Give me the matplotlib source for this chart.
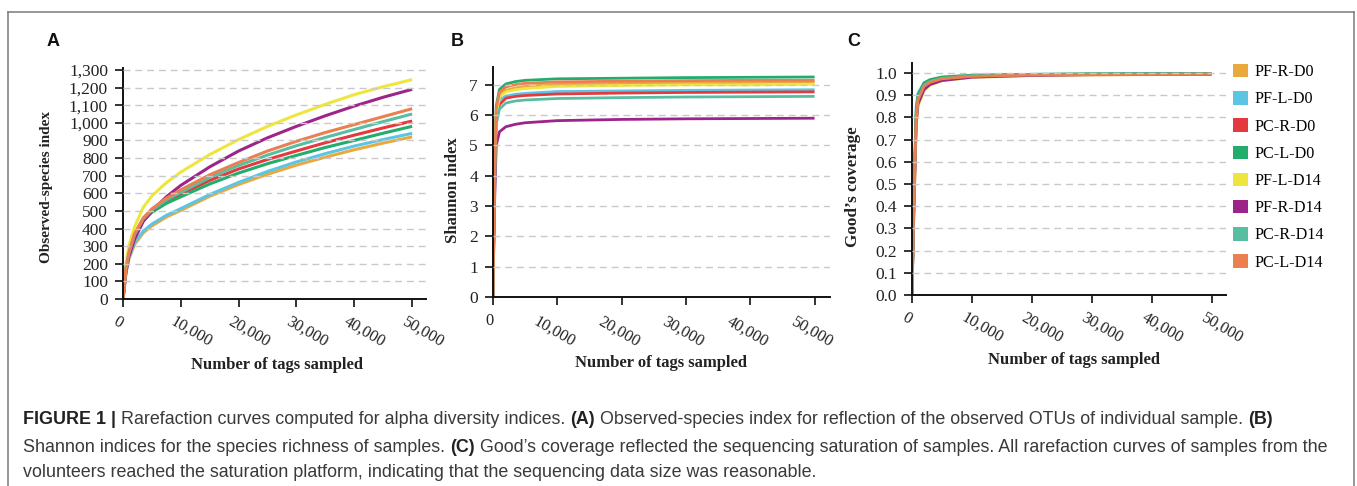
import matplotlib
matplotlib.use("Agg")
import matplotlib.pyplot as plt
from matplotlib.patches import Patch
from matplotlib.lines import Line2D
from matplotlib.transforms import ScaledTranslation

W, H = 1357, 486
DPI = 100

samples = ["PF-R-D0", "PF-L-D0", "PC-R-D0", "PC-L-D0",
           "PF-L-D14", "PF-R-D14", "PC-R-D14", "PC-L-D14"]
colors = ["#E9A93C", "#5DC5E4", "#E4393F", "#22AD6C",
          "#EEE63E", "#9D2489", "#58BEA2", "#EC7F4F"]

# Panel A: observed species
xa = [0, 500, 1000, 2000, 3500, 5000, 7500, 10000, 15000, 20000, 25000,
      30000, 35000, 40000, 45000, 50000]
obs_pf_r_d0 = [0, 145, 225, 310, 375, 415, 465, 503, 583, 650, 708, 760, 805, 847, 885, 920]
obs_pf_l_d0 = [0, 150, 230, 320, 385, 425, 475, 513, 593, 662, 724, 778, 825, 868, 905, 940]
obs_pc_r_d0 = [0, 170, 260, 365, 450, 498, 553, 595, 673, 738, 792, 840, 887, 930, 971, 1010]
obs_pc_l_d0 = [0, 170, 260, 360, 445, 492, 543, 580, 653, 715, 768, 815, 860, 900, 941, 980]
obs_pf_l_d14 = [0, 200, 300, 410, 520, 585, 660, 720, 820, 905, 980, 1045, 1105, 1160, 1205, 1245]
obs_pf_r_d14 = [0, 150, 240, 340, 440, 500, 580, 645, 750, 840, 915, 980, 1040, 1095, 1145, 1190]
obs_pc_r_d14 = [0, 170, 260, 365, 455, 505, 563, 605, 690, 758, 817, 870, 917, 962, 1007, 1050]
obs_pc_l_d14 = [0, 170, 260, 370, 460, 512, 572, 620, 705, 775, 840, 895, 945, 990, 1035, 1080]

# Panel B: Shannon
xb = [0, 200, 500, 1000, 2000, 3500, 5000, 10000, 20000, 30000, 40000, 50000]
sh_pf_r_d0 = [0, 3.4, 6.1, 6.65, 6.82, 6.90, 6.95, 7.02, 7.05, 7.07, 7.08, 7.10]
sh_pf_l_d0 = [0, 3.3, 6.0, 6.5, 6.63, 6.69, 6.72, 6.78, 6.80, 6.82, 6.83, 6.84]
sh_pc_r_d0 = [0, 3.2, 5.9, 6.35, 6.56, 6.62, 6.65, 6.70, 6.73, 6.75, 6.76, 6.77]
sh_pc_l_d0 = [0, 3.5, 6.3, 6.85, 7.03, 7.11, 7.15, 7.20, 7.22, 7.24, 7.25, 7.26]
sh_pf_l_d14 = [0, 3.3, 6.0, 6.6, 6.77, 6.84, 6.88, 6.95, 6.98, 7.00, 7.00, 7.02]
sh_pf_r_d14 = [0, 2.8, 5.0, 5.45, 5.62, 5.70, 5.75, 5.82, 5.86, 5.88, 5.89, 5.90]
sh_pc_r_d14 = [0, 3.1, 5.7, 6.2, 6.40, 6.47, 6.50, 6.55, 6.58, 6.60, 6.61, 6.62]
sh_pc_l_d14 = [0, 3.4, 6.2, 6.75, 6.93, 7.01, 7.05, 7.10, 7.12, 7.14, 7.15, 7.15]

# Panel C: Good's coverage
xc = [0, 300, 700, 1000, 2000, 3000, 5000, 10000, 20000, 30000, 50000]
gc_pf_r_d0 = [0, 0.40, 0.82, 0.90, 0.950, 0.965, 0.978, 0.988, 0.993, 0.995, 0.997]
gc_pf_l_d0 = [0, 0.45, 0.85, 0.91, 0.955, 0.968, 0.980, 0.990, 0.994, 0.996, 0.997]
gc_pc_r_d0 = [0, 0.40, 0.80, 0.88, 0.940, 0.960, 0.975, 0.986, 0.992, 0.994, 0.996]
gc_pc_l_d0 = [0, 0.42, 0.83, 0.90, 0.955, 0.970, 0.982, 0.990, 0.994, 0.996, 0.997]
gc_pf_l_d14 = [0, 0.35, 0.75, 0.85, 0.920, 0.945, 0.965, 0.980, 0.988, 0.991, 0.994]
gc_pf_r_d14 = [0, 0.36, 0.77, 0.86, 0.925, 0.948, 0.966, 0.981, 0.989, 0.992, 0.994]
gc_pc_r_d14 = [0, 0.40, 0.80, 0.88, 0.945, 0.962, 0.976, 0.987, 0.992, 0.994, 0.996]
gc_pc_l_d14 = [0, 0.40, 0.80, 0.88, 0.940, 0.958, 0.974, 0.985, 0.991, 0.993, 0.995]

obs = [obs_pf_r_d0, obs_pf_l_d0, obs_pc_r_d0, obs_pc_l_d0,
       obs_pf_l_d14, obs_pf_r_d14, obs_pc_r_d14, obs_pc_l_d14]
sh = [sh_pf_r_d0, sh_pf_l_d0, sh_pc_r_d0, sh_pc_l_d0,
      sh_pf_l_d14, sh_pf_r_d14, sh_pc_r_d14, sh_pc_l_d14]
gc = [gc_pf_r_d0, gc_pf_l_d0, gc_pc_r_d0, gc_pc_l_d0,
      gc_pf_l_d14, gc_pf_r_d14, gc_pc_r_d14, gc_pc_l_d14]

x_ticks = [0, 10000, 20000, 30000, 40000, 50000]
x_ticklabels = ["0", "10,000", "20,000", "30,000", "40,000", "50,000"]
a_ticks = list(range(0, 1301, 100))
a_ticklabels = ["{:,}".format(v) for v in a_ticks]
b_ticks = list(range(0, 8))
b_ticklabels = [str(v) for v in b_ticks]
c_ticks = [i / 10 for i in range(11)]
c_ticklabels = ["{:.1f}".format(v) for v in c_ticks]

SERIF = "Liberation Serif"
SANS = "Liberation Sans"

fig = plt.figure(figsize=(W / DPI, H / DPI), dpi=DPI)
fig.patch.set_facecolor("white")


def px_axes(left, right, top, bottom):
    return fig.add_axes([left / W, 1 - bottom / H, (right - left) / W, (bottom - top) / H])


def style(ax, xdata, series, ylim, yticks, yticklabels, anchor_mode, dx, ylab, ylab_size,
          ylab_xy, xlab_xy, lw):
    for ys, c in zip(series, colors):
        ax.plot(xdata, ys, color=c, lw=lw, solid_capstyle="butt", zorder=2)
    ax.set_xlim(0, 52400)
    ax.set_ylim(*ylim)
    for s in ["top", "right"]:
        ax.spines[s].set_visible(False)
    for s in ["left", "bottom"]:
        ax.spines[s].set_linewidth(1.4)
        ax.spines[s].set_color("#111111")
    ax.set_xticks(x_ticks)
    if anchor_mode:
        ax.set_xticklabels(x_ticklabels, rotation=-30, ha="left", va="top",
                           rotation_mode="anchor",
                           fontsize=11.8, family=SERIF, color="#222222")
    else:
        ax.set_xticklabels(x_ticklabels, rotation=-30, ha="center", va="top",
                           fontsize=11.8, family=SERIF, color="#222222")
    ax.set_yticks(yticks)
    ax.set_yticklabels(yticklabels, fontsize=12.5, family=SERIF, color="#222222")
    ax.tick_params(axis="both", direction="out", length=5.8, width=1.2, color="#111111")
    ax.tick_params(axis="y", pad=5)
    ax.tick_params(axis="x", pad=5 if anchor_mode else 6)
    ax.set_axisbelow(False)
    ax.yaxis.grid(True, color="#c9c9c9", linestyle=(0, (5, 3.5)), linewidth=1.0)
    ax.get_ygridlines()[0].set_visible(False)
    for lbl in ax.get_xticklabels():
        lbl.set_transform(lbl.get_transform() + ScaledTranslation(dx / DPI, 0, fig.dpi_scale_trans))
    ax.set_ylabel(ylab, fontsize=ylab_size, fontweight="bold", family=SERIF, va="center", color="#222222")
    ax.yaxis.set_label_coords(*ylab_xy)
    ax.set_xlabel("Number of tags sampled", fontsize=12, fontweight="bold",
                  family=SERIF, va="center", color="#222222")
    ax.xaxis.set_label_coords(*xlab_xy)


axA = px_axes(123, 426, 68, 299)
style(axA, xa, obs, (0, 1311), a_ticks, a_ticklabels, True, -5, "Observed-species index", 11,
      (-0.251, 0.485), (0.508, -0.286), 2.2)

axB = px_axes(493, 830, 67, 297)
style(axB, xb, sh, (0, 7.59), b_ticks, b_ticklabels, False, -3, "Shannon index", 12,
      (-0.119, 0.465), (0.4985, -0.287), 2.0)
lb0 = axB.get_xticklabels()[0]
lb0.set_rotation(0)

axC = px_axes(912, 1226, 63, 295)
style(axC, xc, gc, (0, 1.045), c_ticks, c_ticklabels, True, -5, "Good\u2019s coverage", 12.3,
      (-0.188, 0.466), (0.516, -0.28), 2.0)

# panel letters
for letter, (px, py) in zip("ABC", [(53, 42), (457, 41), (854, 41)]):
    fig.text(px / W, 1 - py / H, letter, fontsize=13, fontweight="bold", family=SANS,
             ha="center", va="center", color="#111111")

# legend
handles = [Patch(facecolor=c, edgecolor="none") for c in colors]
fig.legend(handles, samples, loc="upper left", bbox_to_anchor=(1233 / W, 1 - 64 / H),
           frameon=False, borderpad=0, borderaxespad=0, handlelength=0.9, handleheight=0.9,
           handletextpad=0.45, labelspacing=0.68, prop={"family": SERIF, "size": 11.6})

# border
bc = "#7a7a7a"
fig.add_artist(Line2D([7.5 / W, 7.5 / W], [0, 1 - 11.7 / H], transform=fig.transFigure, color=bc, lw=1.1))
fig.add_artist(Line2D([7.5 / W, 1354 / W], [1 - 11.7 / H, 1 - 11.7 / H], transform=fig.transFigure, color=bc, lw=1.1))
fig.add_artist(Line2D([1354 / W, 1354 / W], [0, 1 - 11.7 / H], transform=fig.transFigure, color=bc, lw=1.1))

# caption
cap_lines = [
    [("FIGURE 1 |", True), ("Rarefaction curves computed for alpha diversity indices.", False),
     ("(A)", True), ("Observed-species index for reflection of the observed OTUs of individual sample.", False),
     ("(B)", True)],
    [("Shannon indices for the species richness of samples.", False), ("(C)", True),
     ("Good\u2019s coverage reflected the sequencing saturation of samples. All rarefaction curves of samples from the", False)],
    [("volunteers reached the saturation platform, indicating that the sequencing data size was reasonable.", False)],
]
cap_y = [420, 447, 472]
renderer = fig.canvas.get_renderer()


def measure(s, bold, size):
    t = fig.text(0, 0, s, fontsize=size, fontweight="bold" if bold else "normal", family=SANS)
    w = t.get_window_extent(renderer=renderer).width
    t.remove()
    return w


def line_width(parts, size):
    sp = measure("x x", False, size) - measure("xx", False, size)
    return sum(measure(s, b, size) for s, b in parts) + sp * (len(parts) - 1)


base = 10.0
wb = line_width(cap_lines[0], base)
cap_size = base * (1277 - 23) / wb

for parts, yy in zip(cap_lines, cap_y):
    sp = measure("x x", False, cap_size) - measure("xx", False, cap_size)
    x = 23
    for s, b in parts:
        fig.text(x / W, 1 - yy / H, s, fontsize=cap_size, fontweight="bold" if b else "normal",
                 family=SANS, ha="left", va="center", color="#222222" if b else "#3a3a3a")
        x += measure(s, b, cap_size) + sp

fig.savefig("out.png", dpi=DPI, facecolor="white")
